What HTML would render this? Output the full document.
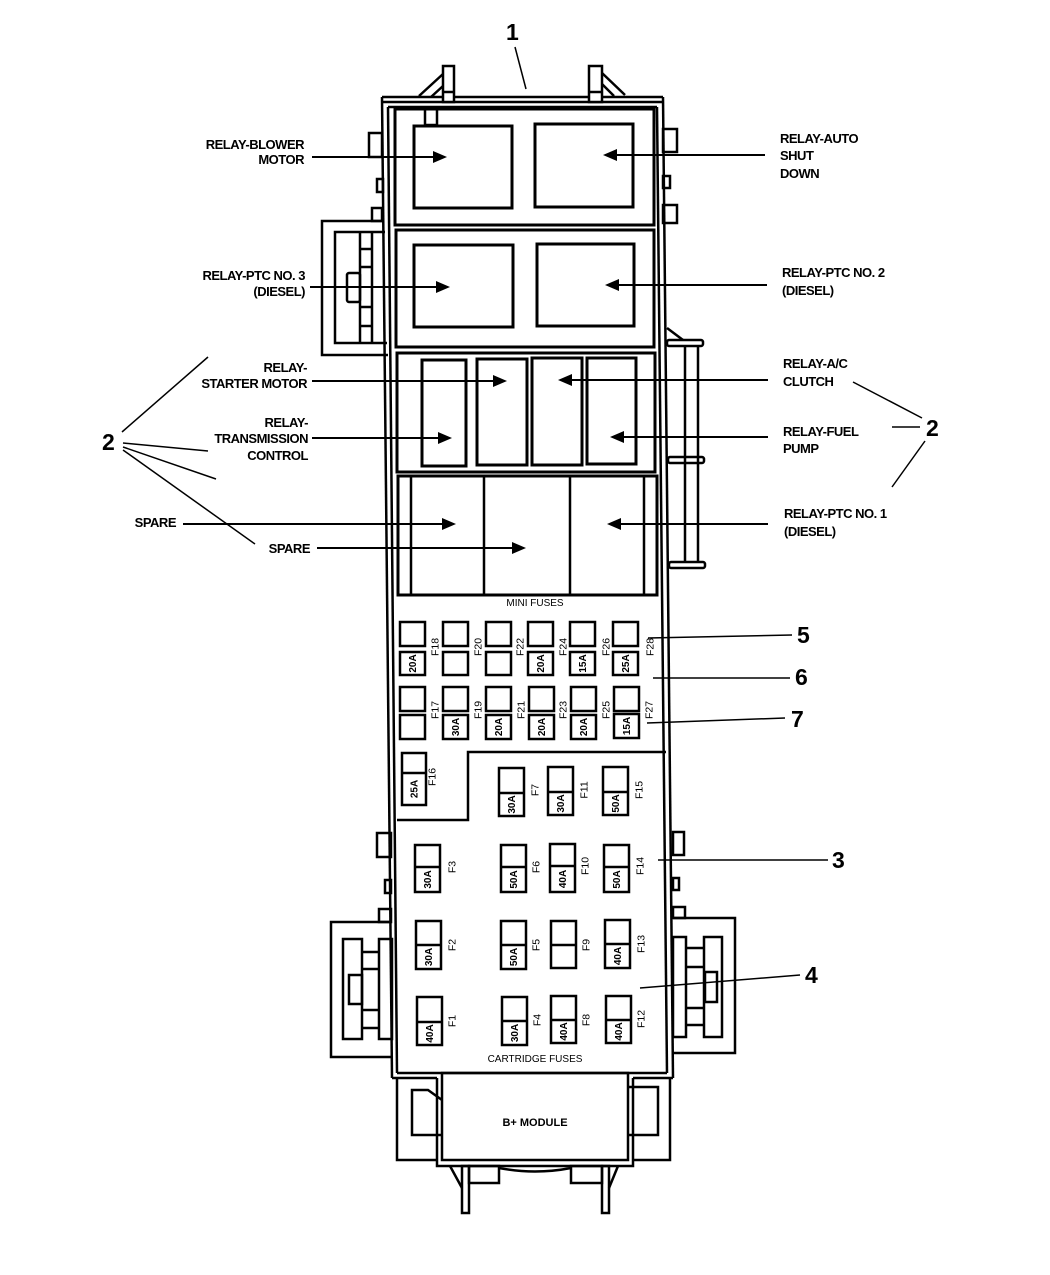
<!DOCTYPE html>
<html><head><meta charset="utf-8"><style>
html,body{margin:0;padding:0;background:#fff}
svg{display:block}
text{font-family:"Liberation Sans",Arial,sans-serif;fill:#000;stroke:none}
.lb{font-size:13px;font-weight:bold;letter-spacing:-0.5px}
.num{font-size:23px;font-weight:bold}
.sm{font-size:10px}
.fl{font-size:10.5px}
.amp{font-size:10px;font-weight:bold}
</style></head><body>
<svg width="1050" height="1275" viewBox="0 0 1050 1275" xmlns="http://www.w3.org/2000/svg">
<g fill="none" stroke="#000" stroke-width="2.5">
<!-- main frame -->
<line x1="382" y1="97" x2="392" y2="1078"/>
<line x1="388" y1="107" x2="397" y2="1073"/>
<line x1="663" y1="97" x2="673" y2="1078"/>
<line x1="657" y1="107" x2="667" y2="1073"/>
<line x1="382" y1="97" x2="663" y2="97"/>
<line x1="382" y1="102" x2="663" y2="102"/>
<line x1="388" y1="107" x2="657" y2="107"/>
<!-- top posts -->
<rect x="443" y="66" width="11" height="36" fill="#fff"/>
<line x1="443" y1="92" x2="454" y2="92"/>
<line x1="419" y1="96" x2="443" y2="74"/>
<line x1="431" y1="97" x2="443" y2="86"/>
<rect x="589" y="66" width="13" height="36" fill="#fff"/>
<line x1="589" y1="92" x2="602" y2="92"/>
<line x1="602" y1="73" x2="625" y2="95"/>
<line x1="602" y1="84" x2="614" y2="96"/>
<rect x="425" y="108" width="12" height="17"/>
<!-- relay boxes -->
<rect x="395" y="109" width="259" height="116" stroke-width="3"/>
<rect x="414" y="126" width="98" height="82" stroke-width="3"/>
<rect x="535" y="124" width="98" height="83" stroke-width="3"/>
<rect x="396" y="230" width="258" height="117" stroke-width="3"/>
<rect x="414" y="245" width="99" height="82" stroke-width="3"/>
<rect x="537" y="244" width="97" height="82" stroke-width="3"/>
<rect x="397" y="353" width="258" height="119" stroke-width="3"/>
<rect x="422" y="360" width="44" height="106" stroke-width="3"/>
<rect x="477" y="359" width="50" height="106" stroke-width="3"/>
<rect x="532" y="358" width="50" height="107" stroke-width="3"/>
<rect x="587" y="358" width="49" height="106" stroke-width="3"/>
<rect x="398" y="476" width="259" height="119" stroke-width="3"/>
<line x1="411" y1="476" x2="411" y2="595"/>
<line x1="484" y1="476" x2="484" y2="595"/>
<line x1="570" y1="476" x2="570" y2="595"/>
<line x1="644" y1="476" x2="644" y2="595"/>
<!-- side tabs top -->
<rect x="369" y="133" width="13" height="24"/>
<rect x="377" y="179" width="6" height="13"/>
<rect x="372" y="208" width="10" height="13"/>
<rect x="663" y="129" width="14" height="23"/>
<rect x="663" y="176" width="7" height="12"/>
<rect x="663" y="205" width="14" height="18"/>
<!-- left connector upper -->
<polyline points="383,221 322,221 322,355 388,355"/>
<polyline points="385,232 335,232 335,343 387,343"/>
<line x1="360" y1="232" x2="360" y2="343"/>
<line x1="372" y1="232" x2="372" y2="343"/>
<line x1="360" y1="249" x2="372" y2="249"/>
<line x1="360" y1="267" x2="372" y2="267"/>
<line x1="360" y1="307" x2="372" y2="307"/>
<line x1="360" y1="326" x2="372" y2="326"/>
<rect x="347" y="273" width="13" height="29" rx="2"/>
<!-- right rail -->
<line x1="667" y1="328" x2="683" y2="340"/>
<rect x="667" y="340" width="36" height="6" rx="2"/>
<line x1="685" y1="346" x2="685" y2="562"/>
<line x1="698" y1="346" x2="698" y2="562"/>
<rect x="668" y="457" width="36" height="6" rx="2"/>
<rect x="669" y="562" width="36" height="6" rx="2"/>
<!-- mini fuses row1 -->
<rect x="400" y="622" width="25" height="24"/><rect x="400" y="652" width="25" height="23"/>
<rect x="443" y="622" width="25" height="24"/><rect x="443" y="652" width="25" height="23"/>
<rect x="486" y="622" width="25" height="24"/><rect x="486" y="652" width="25" height="23"/>
<rect x="528" y="622" width="25" height="24"/><rect x="528" y="652" width="25" height="23"/>
<rect x="570" y="622" width="25" height="24"/><rect x="570" y="652" width="25" height="23"/>
<rect x="613" y="622" width="25" height="24"/><rect x="613" y="652" width="25" height="23"/>
<!-- row2 -->
<rect x="400" y="687" width="25" height="24"/><rect x="400" y="715" width="25" height="24"/>
<rect x="443" y="687" width="25" height="24"/><rect x="443" y="715" width="25" height="24"/>
<rect x="486" y="687" width="25" height="24"/><rect x="486" y="715" width="25" height="24"/>
<rect x="529" y="687" width="25" height="24"/><rect x="529" y="715" width="25" height="24"/>
<rect x="571" y="687" width="25" height="24"/><rect x="571" y="715" width="25" height="24"/>
<rect x="614" y="687" width="25" height="24"/><rect x="614" y="714" width="25" height="24"/>
<!-- F16 -->
<rect x="402" y="753" width="24" height="52"/><line x1="402" y1="773" x2="426" y2="773"/>
<!-- cartridge region -->
<polyline points="666,752 468,752 468,820 397,820"/>
<line x1="397" y1="1073" x2="667" y2="1073"/>
<!-- cartridge fuses -->
<rect x="499" y="768" width="25" height="48"/><line x1="499" y1="793" x2="524" y2="793"/>
<rect x="548" y="767" width="25" height="48"/><line x1="548" y1="792" x2="573" y2="792"/>
<rect x="603" y="767" width="25" height="48"/><line x1="603" y1="792" x2="628" y2="792"/>
<rect x="415" y="845" width="25" height="47"/><line x1="415" y1="867" x2="440" y2="867"/>
<rect x="501" y="845" width="25" height="47"/><line x1="501" y1="867" x2="526" y2="867"/>
<rect x="550" y="844" width="25" height="48"/><line x1="550" y1="866" x2="575" y2="866"/>
<rect x="604" y="845" width="25" height="47"/><line x1="604" y1="867" x2="629" y2="867"/>
<rect x="416" y="921" width="25" height="48"/><line x1="416" y1="945" x2="441" y2="945"/>
<rect x="501" y="921" width="25" height="48"/><line x1="501" y1="945" x2="526" y2="945"/>
<rect x="551" y="921" width="25" height="47"/><line x1="551" y1="945" x2="576" y2="945"/>
<rect x="605" y="920" width="25" height="48"/><line x1="605" y1="944" x2="630" y2="944"/>
<rect x="417" y="997" width="25" height="48"/><line x1="417" y1="1022" x2="442" y2="1022"/>
<rect x="502" y="997" width="25" height="48"/><line x1="502" y1="1021" x2="527" y2="1021"/>
<rect x="551" y="996" width="25" height="47"/><line x1="551" y1="1020" x2="576" y2="1020"/>
<rect x="606" y="996" width="25" height="47"/><line x1="606" y1="1020" x2="631" y2="1020"/>
<!-- left connector lower -->
<polyline points="391,922 331,922 331,1057 392,1057"/>
<rect x="343" y="939" width="19" height="100"/>
<rect x="379" y="939" width="13" height="100"/>
<line x1="362" y1="952" x2="379" y2="952"/>
<line x1="362" y1="969" x2="379" y2="969"/>
<line x1="362" y1="1010" x2="379" y2="1010"/>
<line x1="362" y1="1028" x2="379" y2="1028"/>
<rect x="349" y="975" width="13" height="29"/>
<rect x="377" y="833" width="14" height="24"/>
<rect x="385" y="880" width="6" height="13"/>
<rect x="379" y="909" width="12" height="13"/>
<!-- right connector lower -->
<polyline points="673,918 735,918 735,1053 673,1053"/>
<rect x="673" y="937" width="13" height="100"/>
<rect x="704" y="937" width="18" height="100"/>
<line x1="686" y1="948" x2="704" y2="948"/>
<line x1="686" y1="967" x2="704" y2="967"/>
<line x1="686" y1="1008" x2="704" y2="1008"/>
<line x1="686" y1="1025" x2="704" y2="1025"/>
<rect x="705" y="972" width="12" height="30"/>
<rect x="673" y="832" width="11" height="23"/>
<rect x="673" y="878" width="6" height="12"/>
<rect x="673" y="907" width="12" height="11"/>
<!-- bottom module -->
<line x1="392" y1="1078" x2="437" y2="1078"/>
<line x1="633" y1="1078" x2="673" y2="1078"/>
<rect x="442" y="1073" width="186" height="87"/>
<polyline points="437,1078 437,1166 633,1166 633,1078"/>
<polyline points="397,1078 397,1160 437,1160"/>
<polyline points="442,1100 428,1090 412,1090 412,1135 442,1135"/>
<polyline points="670,1078 670,1160 633,1160"/>
<polyline points="628,1087 658,1087 658,1135 628,1135"/>
<rect x="462" y="1166" width="7" height="47"/>
<rect x="602" y="1166" width="7" height="47"/>
<line x1="450" y1="1166" x2="462" y2="1188"/>
<line x1="618" y1="1166" x2="609" y2="1188"/>
<rect x="469" y="1166" width="30" height="17"/>
<rect x="571" y="1166" width="31" height="17"/>
<path d="M499,1168 Q535,1175 571,1168"/>
</g>

<!-- leader lines -->
<g stroke="#000" stroke-width="2" fill="none">
<line x1="312" y1="157" x2="436" y2="157"/>
<line x1="614" y1="155" x2="765" y2="155"/>
<line x1="310" y1="287" x2="439" y2="287"/>
<line x1="616" y1="285" x2="767" y2="285"/>
<line x1="312" y1="381" x2="496" y2="381"/>
<line x1="569" y1="380" x2="768" y2="380"/>
<line x1="312" y1="438" x2="441" y2="438"/>
<line x1="621" y1="437" x2="768" y2="437"/>
<line x1="183" y1="524" x2="445" y2="524"/>
<line x1="317" y1="548" x2="515" y2="548"/>
<line x1="618" y1="524" x2="768" y2="524"/>
</g>
<g stroke="#000" stroke-width="1.5" fill="none">
<line x1="515" y1="47" x2="526" y2="89"/>
<line x1="122" y1="432" x2="208" y2="357"/>
<line x1="123" y1="443" x2="208" y2="451"/>
<line x1="123" y1="447" x2="216" y2="479"/>
<line x1="123" y1="450" x2="255" y2="544"/>
<line x1="853" y1="382" x2="922" y2="418"/>
<line x1="892" y1="427" x2="920" y2="427"/>
<line x1="925" y1="441" x2="892" y2="487"/>
<line x1="648" y1="638" x2="792" y2="635"/>
<line x1="653" y1="678" x2="790" y2="678"/>
<line x1="647" y1="723" x2="785" y2="718"/>
<line x1="658" y1="860" x2="828" y2="860"/>
<line x1="640" y1="988" x2="800" y2="975"/>
</g>
<!-- arrowheads -->
<g fill="#000" stroke="none">
<polygon points="447,157 433,151 433,163"/>
<polygon points="603,155 617,149 617,161"/>
<polygon points="450,287 436,281 436,293"/>
<polygon points="605,285 619,279 619,291"/>
<polygon points="507,381 493,375 493,387"/>
<polygon points="558,380 572,374 572,386"/>
<polygon points="452,438 438,432 438,444"/>
<polygon points="610,437 624,431 624,443"/>
<polygon points="456,524 442,518 442,530"/>
<polygon points="526,548 512,542 512,554"/>
<polygon points="607,524 621,518 621,530"/>
</g>

<!-- numbers -->
<text class="num" x="506" y="40">1</text>
<text class="num" x="102" y="450">2</text>
<text class="num" x="926" y="436">2</text>
<text class="num" x="797" y="643">5</text>
<text class="num" x="795" y="685">6</text>
<text class="num" x="791" y="727">7</text>
<text class="num" x="832" y="868">3</text>
<text class="num" x="805" y="983">4</text>

<!-- left labels -->
<g class="lb" text-anchor="end">
<text x="304" y="149">RELAY-BLOWER</text>
<text x="304" y="164">MOTOR</text>
<text x="305" y="280">RELAY-PTC NO. 3</text>
<text x="305" y="296">(DIESEL)</text>
<text x="307" y="372">RELAY-</text>
<text x="307" y="388">STARTER MOTOR</text>
<text x="308" y="427">RELAY-</text>
<text x="308" y="443">TRANSMISSION</text>
<text x="308" y="460">CONTROL</text>
<text x="176" y="527">SPARE</text>
<text x="310" y="553">SPARE</text>
</g>
<!-- right labels -->
<g class="lb">
<text x="780" y="143">RELAY-AUTO</text>
<text x="780" y="160">SHUT</text>
<text x="780" y="178">DOWN</text>
<text x="782" y="277">RELAY-PTC NO. 2</text>
<text x="782" y="295">(DIESEL)</text>
<text x="783" y="368">RELAY-A/C</text>
<text x="783" y="386">CLUTCH</text>
<text x="783" y="436">RELAY-FUEL</text>
<text x="783" y="453">PUMP</text>
<text x="784" y="518">RELAY-PTC NO. 1</text>
<text x="784" y="536">(DIESEL)</text>
</g>

<text class="sm" x="535" y="606" text-anchor="middle">MINI FUSES</text>
<text class="sm" x="535" y="1062" text-anchor="middle">CARTRIDGE FUSES</text>
<text x="535" y="1126" text-anchor="middle" style="font-size:11px;font-weight:bold">B+ MODULE</text>

<!-- rotated fuse labels -->
<g class="fl" text-anchor="middle">
<text transform="translate(435,647) rotate(-90)" dy="0.35em">F18</text>
<text transform="translate(478,647) rotate(-90)" dy="0.35em">F20</text>
<text transform="translate(520,647) rotate(-90)" dy="0.35em">F22</text>
<text transform="translate(563,647) rotate(-90)" dy="0.35em">F24</text>
<text transform="translate(606,647) rotate(-90)" dy="0.35em">F26</text>
<text transform="translate(650,647) rotate(-90)" dy="0.35em">F28</text>
<text transform="translate(435,710) rotate(-90)" dy="0.35em">F17</text>
<text transform="translate(478,710) rotate(-90)" dy="0.35em">F19</text>
<text transform="translate(521,710) rotate(-90)" dy="0.35em">F21</text>
<text transform="translate(563,710) rotate(-90)" dy="0.35em">F23</text>
<text transform="translate(606,710) rotate(-90)" dy="0.35em">F25</text>
<text transform="translate(649,710) rotate(-90)" dy="0.35em">F27</text>
<text transform="translate(432,777) rotate(-90)" dy="0.35em">F16</text>
<text transform="translate(535,790) rotate(-90)" dy="0.35em">F7</text>
<text transform="translate(584,790) rotate(-90)" dy="0.35em">F11</text>
<text transform="translate(639,790) rotate(-90)" dy="0.35em">F15</text>
<text transform="translate(452,867) rotate(-90)" dy="0.35em">F3</text>
<text transform="translate(536,867) rotate(-90)" dy="0.35em">F6</text>
<text transform="translate(585,866) rotate(-90)" dy="0.35em">F10</text>
<text transform="translate(640,866) rotate(-90)" dy="0.35em">F14</text>
<text transform="translate(452,945) rotate(-90)" dy="0.35em">F2</text>
<text transform="translate(536,945) rotate(-90)" dy="0.35em">F5</text>
<text transform="translate(586,945) rotate(-90)" dy="0.35em">F9</text>
<text transform="translate(641,944) rotate(-90)" dy="0.35em">F13</text>
<text transform="translate(452,1021) rotate(-90)" dy="0.35em">F1</text>
<text transform="translate(537,1020) rotate(-90)" dy="0.35em">F4</text>
<text transform="translate(586,1020) rotate(-90)" dy="0.35em">F8</text>
<text transform="translate(641,1019) rotate(-90)" dy="0.35em">F12</text>
</g>
<!-- amp labels -->
<g class="amp" text-anchor="middle">
<text transform="translate(412.5,663.5) rotate(-90)" dy="0.35em">20A</text>
<text transform="translate(540.5,663.5) rotate(-90)" dy="0.35em">20A</text>
<text transform="translate(582.5,663.5) rotate(-90)" dy="0.35em">15A</text>
<text transform="translate(625.5,663.5) rotate(-90)" dy="0.35em">25A</text>
<text transform="translate(455.5,727) rotate(-90)" dy="0.35em">30A</text>
<text transform="translate(498.5,727) rotate(-90)" dy="0.35em">20A</text>
<text transform="translate(541.5,727) rotate(-90)" dy="0.35em">20A</text>
<text transform="translate(583.5,727) rotate(-90)" dy="0.35em">20A</text>
<text transform="translate(626.5,726) rotate(-90)" dy="0.35em">15A</text>
<text transform="translate(414,789) rotate(-90)" dy="0.35em">25A</text>
<text transform="translate(511.5,804.5) rotate(-90)" dy="0.35em">30A</text>
<text transform="translate(560.5,803.5) rotate(-90)" dy="0.35em">30A</text>
<text transform="translate(615.5,803.5) rotate(-90)" dy="0.35em">50A</text>
<text transform="translate(427.5,879.5) rotate(-90)" dy="0.35em">30A</text>
<text transform="translate(513.5,879.5) rotate(-90)" dy="0.35em">50A</text>
<text transform="translate(562.5,879) rotate(-90)" dy="0.35em">40A</text>
<text transform="translate(616.5,879.5) rotate(-90)" dy="0.35em">50A</text>
<text transform="translate(428.5,957) rotate(-90)" dy="0.35em">30A</text>
<text transform="translate(513.5,957) rotate(-90)" dy="0.35em">50A</text>
<text transform="translate(617.5,956) rotate(-90)" dy="0.35em">40A</text>
<text transform="translate(429.5,1033.5) rotate(-90)" dy="0.35em">40A</text>
<text transform="translate(514.5,1033) rotate(-90)" dy="0.35em">30A</text>
<text transform="translate(563.5,1031.5) rotate(-90)" dy="0.35em">40A</text>
<text transform="translate(618.5,1031.5) rotate(-90)" dy="0.35em">40A</text>
</g>
</svg>
</body></html>
